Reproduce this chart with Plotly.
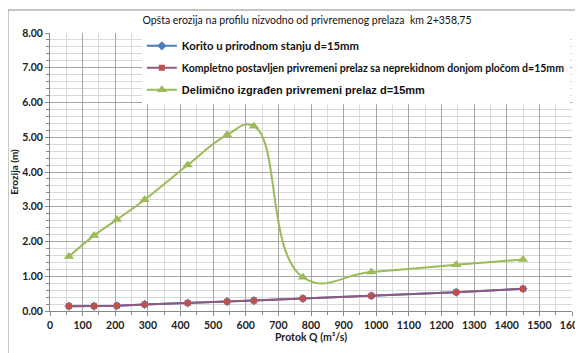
import plotly.graph_objects as go

q = [58, 135, 205, 290, 422, 543, 625, 775, 985, 1245, 1450]
korito = [0.14, 0.14, 0.15, 0.19, 0.23, 0.27, 0.30, 0.36, 0.44, 0.54, 0.64]
kompletno = [0.14, 0.14, 0.15, 0.19, 0.23, 0.27, 0.30, 0.36, 0.44, 0.54, 0.64]
delimicno = [1.57, 2.17, 2.63, 3.20, 4.20, 5.07, 5.32, 0.97, 1.12, 1.33, 1.48]

names = [
    "<span style='font-size:11.3px'><b>Korito u prirodnom stanju d=15mm</b></span>",
    "<b>Kompletno postavljen privremeni prelaz sa neprekidnom donjom pločom d=15mm</b>",
    "<span style='font-family:Liberation Sans;font-size:11px'><b>Delimično izgrađen privremeni prelaz d=15mm</b></span>",
]
title = "Opšta erozija na profilu nizvodno od privremenog prelaza  km 2+358,75"
x_title = "Protok Q (m³/s)"
y_title = "Erozija (m)"

fig = go.Figure()
fig.add_trace(go.Scatter(x=q, y=korito, name=names[0], mode="lines+markers",
                         line=dict(color="#4A7EBB", width=2),
                         marker=dict(symbol="diamond", size=7, color="#4A7EBB"),
                         legendgroup="a"))
fig.add_trace(go.Scatter(x=q, y=kompletno, name=names[1], mode="lines+markers",
                         line=dict(color="#8E5A7E", width=2),
                         marker=dict(symbol="square", size=6, color="#C0504D"),
                         legendgroup="b"))
fig.add_trace(go.Scatter(x=q, y=delimicno, name=names[2], mode="lines+markers",
                         line=dict(color="#9BBB59", width=2, shape="spline", smoothing=1.3),
                         marker=dict(symbol="triangle-up", size=9, color="#9BBB59"),
                         legendgroup="c"))

grid_major = "#A6A6A6"
grid_minor = "#D9D9D9"

fig.update_layout(
    width=575, height=345,
    margin=dict(l=42, r=11, t=25, b=42),
    paper_bgcolor="white", plot_bgcolor="white",
    font=dict(family="Lato", size=11, color="#222"),
    title=dict(text=title, x=0.52, xanchor="center", y=0.965, yanchor="middle",
               font=dict(size=10.5, family="Lato", color="#111")),
    showlegend=True,
    legend=dict(x=0.176, y=1.006, xanchor="left", yanchor="top",
                bgcolor="white", borderwidth=0, tracegroupgap=3,
                font=dict(size=10.5, family="Lato", color="#111"),
                itemwidth=30),
    xaxis=dict(range=[0, 1600], dtick=100, tick0=0, showgrid=True, gridcolor=grid_major,
               gridwidth=1, zeroline=False, showline=True, linecolor="#888",
               ticks="outside", ticklen=4, tickcolor="#888", automargin=False,
               ticklabeloverflow="allow",
               minor=dict(dtick=50, showgrid=True, gridcolor=grid_minor, ticks="outside", ticklen=3, tickcolor="#888"),
               tickfont=dict(size=10.5, color="#222", weight="bold"),
               title=dict(text=f"<b>{x_title}</b>", font=dict(size=10.5, color="#222"), standoff=4)),
    yaxis=dict(range=[0, 8], dtick=1, tickformat=".2f", showgrid=True, gridcolor=grid_major,
               gridwidth=1, zeroline=False, showline=True, linecolor="#888",
               ticks="outside", ticklen=4, tickcolor="#888", automargin=False,
               ticklabeloverflow="allow",
               minor=dict(dtick=0.2, showgrid=True, gridcolor=grid_minor, ticks="outside", ticklen=3, tickcolor="#888"),
               tickfont=dict(size=10.5, color="#222", weight="bold"),
               title=dict(text=f"<b>{y_title}</b>", font=dict(size=10, color="#222"), standoff=2)),
    shapes=[dict(type="rect", xref="paper", yref="paper",
                 x0=-0.0805, x1=1.05, y0=-0.2, y1=1.0827,
                 line=dict(color="#8C8C8C", width=1), fillcolor="rgba(0,0,0,0)", layer="below")],
)

fig.write_html("out.html")
